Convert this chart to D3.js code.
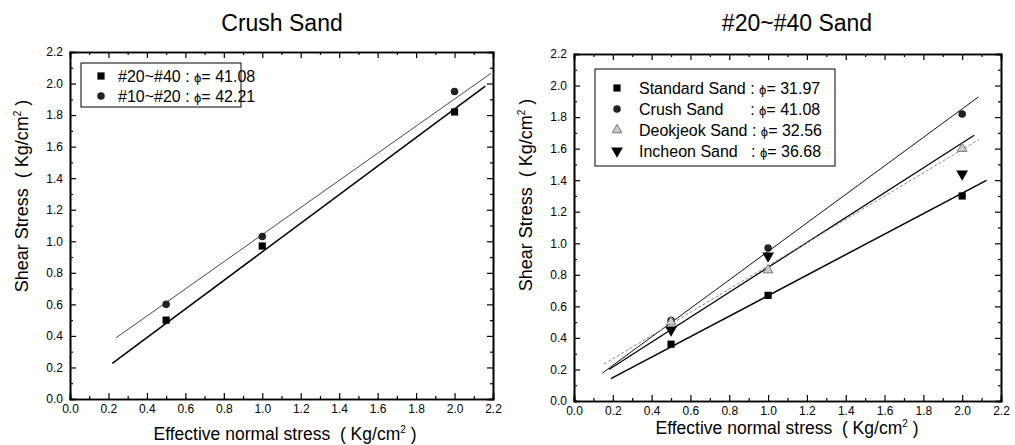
<!DOCTYPE html>
<html>
<head>
	<script src="https://cdn.jsdelivr.net/npm/d3@7"></script>
	<style>
		html, body {
			padding: 0;
			margin: 0;
			background: white;
		}
		svg text {
			font-family: Arial, "Liberation Sans", sans-serif;
			fill: black;
		}
	</style>
</head>
<body>
	<div id="chart"></div>

	<script>
		// ---- data ----
		var xStress = [0.5, 1.0, 2.0];
		var tickValues = [0.0, 0.2, 0.4, 0.6, 0.8, 1.0, 1.2, 1.4, 1.6, 1.8, 2.0, 2.2];
		var minorValues = [0.1, 0.3, 0.5, 0.7, 0.9, 1.1, 1.3, 1.5, 1.7, 1.9, 2.1];

		// left panel: crush sand, two gradings
		var crushGrades = ["#20~#40", "#10~#20"];
		var crushPhi = [41.08, 42.21];
		var grade2040 = [0.50, 0.97, 1.82];
		var grade1020 = [0.60, 1.03, 1.95];
		// fitted lines: [slope, intercept, xFrom, xTo]
		var fit2040 = [0.906, 0.027, 0.22, 2.16];
		var fit1020 = [0.860, 0.182, 0.24, 2.19];

		// right panel: #20~#40 grading, four sands
		var sandNames = ["Standard Sand ", "Crush Sand      ", "Deokjeok Sand ", "Incheon Sand   "];
		var sandPhi = [31.97, 41.08, 32.56, 36.68];
		var standardSand = [0.36, 0.67, 1.30];
		var crushSand = [0.51, 0.97, 1.82];
		var deokjeokSand = [0.50, 0.83, 1.60];
		var incheonSand = [0.45, 0.92, 1.44];
		var fitStandard = [0.650, 0.018, 0.19, 2.125];
		var fitCrush = [0.9035, 0.045, 0.146, 2.084];
		var fitDeokjeok = [0.737, 0.120, 0.155, 2.088];
		var fitIncheon = [0.789, 0.058, 0.18, 2.062];

		var width = 1015, height = 445;

		var svg = d3.select('#chart').append('svg')
			.attr('width', width)
			.attr('height', height)
			.style('background-color', 'white');

		var fmt = d3.format('.1f');

		function symbolPath(kind, size) {
			if (kind === 'square') return d3.symbol(d3.symbolSquare, size)();
			if (kind === 'circle') return d3.symbol(d3.symbolCircle, size)();
			return d3.symbol(d3.symbolTriangle, size)();
		}

		function drawMarker(g, kind, x, y) {
			var m = g.append('path')
				.attr('transform', 'translate(' + x + ',' + y + ')' + (kind === 'down' ? ' rotate(180)' : ''));
			if (kind === 'square') m.attr('d', symbolPath('square', 52)).attr('fill', 'black');
			else if (kind === 'circle') m.attr('d', symbolPath('circle', 45)).attr('fill', '#222');
			else if (kind === 'down') m.attr('d', symbolPath('tri', 60)).attr('fill', 'black');
			else m.attr('d', symbolPath('tri', 40)).attr('fill', '#ccc').attr('stroke', '#777').attr('stroke-width', 1);
		}

		function drawPanel(p) {
			var g = svg.append('g');
			var x = d3.scaleLinear().domain([0, 2.2]).range([p.left, p.right]);
			var y = d3.scaleLinear().domain([0, 2.2]).range([p.bottom, p.top]);

			// axes with inward ticks on all four sides
			g.append('g').attr('transform', 'translate(0,' + p.bottom + ')')
				.call(d3.axisBottom(x).tickValues(tickValues).tickFormat(fmt).tickSize(-6).tickPadding(5));
			g.append('g').attr('transform', 'translate(0,' + p.bottom + ')')
				.call(d3.axisBottom(x).tickValues(minorValues).tickFormat('').tickSize(-3));
			g.append('g').attr('transform', 'translate(' + p.left + ',0)')
				.call(d3.axisLeft(y).tickValues(tickValues).tickFormat(fmt).tickSize(-6).tickPadding(7));
			g.append('g').attr('transform', 'translate(' + p.left + ',0)')
				.call(d3.axisLeft(y).tickValues(minorValues).tickFormat('').tickSize(-3));
			g.append('g').attr('transform', 'translate(0,' + p.top + ')')
				.call(d3.axisTop(x).tickValues(tickValues).tickFormat('').tickSize(-6));
			g.append('g').attr('transform', 'translate(0,' + p.top + ')')
				.call(d3.axisTop(x).tickValues(minorValues).tickFormat('').tickSize(-3));
			g.append('g').attr('transform', 'translate(' + p.right + ',0)')
				.call(d3.axisRight(y).tickValues(tickValues).tickFormat('').tickSize(-6));
			g.append('g').attr('transform', 'translate(' + p.right + ',0)')
				.call(d3.axisRight(y).tickValues(minorValues).tickFormat('').tickSize(-3));

			g.selectAll('.domain').attr('stroke', 'black').attr('stroke-width', 1.6);
			g.selectAll('.tick line').attr('stroke', 'black').attr('stroke-width', 1.2);
			g.selectAll('.tick text').style('font-size', '12px').style('font-family', 'Arial, "Liberation Sans", sans-serif');

			// fitted lines
			p.fits.forEach(function(f) {
				var pts = [f.fit[2], f.fit[3]].map(function(v) { return [x(v), y(f.fit[0] * v + f.fit[1])]; });
				g.append('path')
					.attr('d', d3.line()(pts))
					.attr('fill', 'none')
					.attr('stroke', f.color)
					.attr('stroke-width', f.w)
					.attr('stroke-dasharray', f.dash || null);
			});

			// points
			p.series.forEach(function(s) {
				s.values.forEach(function(v, i) {
					drawMarker(g, s.kind, x(xStress[i]), y(v));
				});
			});

			// legend
			var L = p.legend;
			g.append('rect')
				.attr('x', L.x).attr('y', L.y).attr('width', L.w).attr('height', L.h)
				.attr('fill', 'white').attr('stroke', 'black').attr('stroke-width', 1);
			p.series.forEach(function(s, i) {
				var ly = L.y + L.first + i * L.step;
				drawMarker(g, s.kind, L.x + L.sym, ly);
				var t = g.append('text')
					.attr('x', L.x + L.txt).attr('y', ly + 6)
					.style('font-size', '16px')
					.style('white-space', 'pre');
				t.append('tspan').text(s.name + ': ');
				t.append('tspan').style('font-size', '13px').text('\u03d5');
				t.append('tspan').text('= ' + s.phi.toFixed(2));
			});

			// titles
			g.append('text')
				.attr('x', p.titleX).attr('y', 31)
				.attr('text-anchor', 'middle')
				.style('font-size', '23px')
				.text(p.title);

			var xt = g.append('text')
				.attr('x', p.xTitleX).attr('y', p.xTitleY)
				.attr('text-anchor', 'middle')
				.style('font-size', '17.5px')
				.style('white-space', 'pre');
			xt.append('tspan').text('Effective normal stress  ( Kg/cm');
			xt.append('tspan').attr('dy', -7).style('font-size', '10px').text('2');
			xt.append('tspan').attr('dy', 7).text(' )');

			var yt = g.append('text')
				.attr('transform', 'translate(' + p.yTitleX + ',' + p.yTitleY + ') rotate(-90)')
				.attr('text-anchor', 'middle')
				.style('font-size', '18px')
				.style('white-space', 'pre');
			yt.append('tspan').text('Shear Stress  ( Kg/cm');
			yt.append('tspan').attr('dy', -7).style('font-size', '10px').text('2');
			yt.append('tspan').attr('dy', 7).text(' )');
		}

		drawPanel({
			left: 70, right: 493, top: 52, bottom: 399,
			title: 'Crush Sand', titleX: 282,
			xTitleX: 285, xTitleY: 440,
			yTitleX: 28, yTitleY: 196,
			fits: [
				{fit: fit2040, color: 'black', w: 1.5},
				{fit: fit1020, color: '#333', w: 0.9}
			],
			series: [
				{name: crushGrades[0] + ' ', phi: crushPhi[0], kind: 'square', values: grade2040},
				{name: crushGrades[1] + ' ', phi: crushPhi[1], kind: 'circle', values: grade1020}
			],
			legend: {x: 81, y: 63, w: 160, h: 44, first: 13, step: 20, sym: 20, txt: 37}
		});

		drawPanel({
			left: 574, right: 1001, top: 54, bottom: 401,
			title: '#20~#40 Sand', titleX: 797,
			xTitleX: 787, xTitleY: 434,
			yTitleX: 532, yTitleY: 195,
			fits: [
				{fit: fitStandard, color: 'black', w: 1.5},
				{fit: fitCrush, color: '#111', w: 1},
				{fit: fitIncheon, color: 'black', w: 1.3},
				{fit: fitDeokjeok, color: '#888', w: 1, dash: '3,2'}
			],
			series: [
				{name: sandNames[0], phi: sandPhi[0], kind: 'square', values: standardSand},
				{name: sandNames[1], phi: sandPhi[1], kind: 'circle', values: crushSand},
				{name: sandNames[2], phi: sandPhi[2], kind: 'tri', values: deokjeokSand},
				{name: sandNames[3], phi: sandPhi[3], kind: 'down', values: incheonSand}
			],
			legend: {x: 595, y: 69, w: 240, h: 97, first: 19, step: 21, sym: 22, txt: 44}
		});
	</script>
</body>
</html>
